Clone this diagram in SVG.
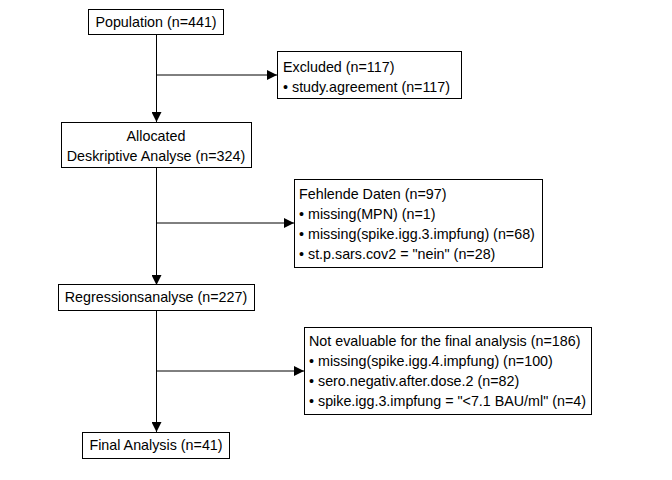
<svg xmlns="http://www.w3.org/2000/svg" width="672" height="480" viewBox="0 0 672 480">
<defs>
<style>
.box{fill:#ffffff;stroke:#000000;stroke-width:1}
text{font-family:"Liberation Sans",Arial,sans-serif;font-size:14.3px;fill:#000000}
.c{text-anchor:middle}
.ln{stroke:#000000;stroke-width:1;fill:none}
</style>
<marker id="ah" viewBox="0 0 10 10" refX="10" refY="5" markerWidth="10" markerHeight="10" markerUnits="userSpaceOnUse" orient="auto">
<path d="M0,0 L10,5 L0,10 Z" fill="#000000"/>
</marker>
</defs>
<rect width="672" height="480" fill="#ffffff"/>
<g id="connectors">
<line class="ln" x1="156.5" y1="34" x2="156.5" y2="122" marker-end="url(#ah)"/>
<line class="ln" x1="156.5" y1="75" x2="277" y2="75" marker-end="url(#ah)"/>
<line class="ln" x1="156.5" y1="167" x2="156.5" y2="285" marker-end="url(#ah)"/>
<line class="ln" x1="156.5" y1="223" x2="294" y2="223" marker-end="url(#ah)"/>
<line class="ln" x1="156.5" y1="311" x2="156.5" y2="432" marker-end="url(#ah)"/>
<line class="ln" x1="156.5" y1="371" x2="304" y2="371" marker-end="url(#ah)"/>
</g>
<g id="population">
<rect class="box" x="88.5" y="9.5" width="135" height="25"/>
<text class="c" x="156" y="27">Population (n=441)</text>
</g>
<g id="excluded">
<rect class="box" x="277.5" y="51.5" width="184" height="47"/>
<text x="283" y="72">Excluded (n=117)</text>
<text x="283" y="92">• study.agreement (n=117)</text>
</g>
<g id="allocated">
<rect class="box" x="61.5" y="122.5" width="190" height="45"/>
<text class="c" x="156" y="141">Allocated</text>
<text class="c" x="156" y="161">Deskriptive Analyse (n=324)</text>
</g>
<g id="fehlende">
<rect class="box" x="294.5" y="179.5" width="248" height="88"/>
<text x="299" y="199">Fehlende Daten (n=97)</text>
<text x="299" y="219">• missing(MPN) (n=1)</text>
<text x="299" y="239">• missing(spike.igg.3.impfung) (n=68)</text>
<text x="299" y="259">• st.p.sars.cov2 = "nein" (n=28)</text>
</g>
<g id="regression">
<rect class="box" x="58.5" y="284.5" width="196" height="26"/>
<text class="c" x="156" y="302">Regressionsanalyse (n=227)</text>
</g>
<g id="notevaluable">
<rect class="box" x="304.5" y="327.5" width="287" height="87"/>
<text x="309" y="346">Not evaluable for the final analysis (n=186)</text>
<text x="309" y="366">• missing(spike.igg.4.impfung) (n=100)</text>
<text x="309" y="386">• sero.negativ.after.dose.2 (n=82)</text>
<text x="309" y="406">• spike.igg.3.impfung = "&lt;7.1 BAU/ml" (n=4)</text>
</g>
<g id="final">
<rect class="box" x="82.5" y="432.5" width="147" height="26"/>
<text class="c" x="156" y="450">Final Analysis (n=41)</text>
</g>
</svg>
